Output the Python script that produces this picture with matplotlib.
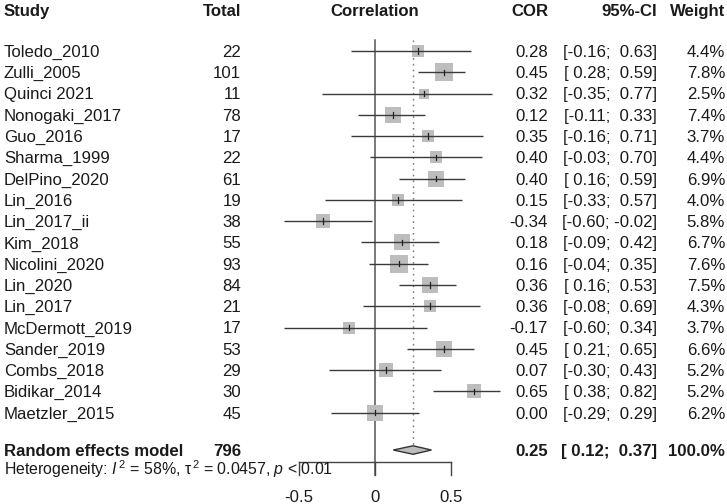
import matplotlib
matplotlib.use("Agg")
import matplotlib.pyplot as plt
from matplotlib.transforms import blended_transform_factory
from matplotlib.patches import Polygon

plt.rcParams['font.family'] = ['Liberation Sans', 'DejaVu Sans']
plt.rcParams['mathtext.fontset'] = 'custom'
plt.rcParams['mathtext.rm'] = 'Liberation Sans'
plt.rcParams['mathtext.it'] = 'Liberation Sans:italic'
plt.rcParams['mathtext.bf'] = 'Liberation Sans:bold'

# ---------------- data ----------------
studies = ["Toledo_2010", "Zulli_2005", "Quinci 2021", "Nonogaki_2017", "Guo_2016",
           "Sharma_1999", "DelPino_2020", "Lin_2016", "Lin_2017_ii", "Kim_2018",
           "Nicolini_2020", "Lin_2020", "Lin_2017", "McDermott_2019", "Sander_2019",
           "Combs_2018", "Bidikar_2014", "Maetzler_2015"]
totals = [22, 101, 11, 78, 17, 22, 61, 19, 38, 55, 93, 84, 21, 17, 53, 29, 30, 45]
cor = [0.28, 0.45, 0.32, 0.12, 0.35, 0.40, 0.40, 0.15, -0.34, 0.18, 0.16, 0.36,
       0.36, -0.17, 0.45, 0.07, 0.65, 0.00]
ci_lo = [-0.16, 0.28, -0.35, -0.11, -0.16, -0.03, 0.16, -0.33, -0.60, -0.09, -0.04,
         0.16, -0.08, -0.60, 0.21, -0.30, 0.38, -0.29]
ci_hi = [0.63, 0.59, 0.77, 0.33, 0.71, 0.70, 0.59, 0.57, -0.02, 0.42, 0.35, 0.53,
         0.69, 0.34, 0.65, 0.43, 0.82, 0.29]
weights = [4.4, 7.8, 2.5, 7.4, 3.7, 4.4, 6.9, 4.0, 5.8, 6.7, 7.6, 7.5, 4.3, 3.7,
           6.6, 5.2, 5.2, 6.2]

re_label = "Random effects model"
re_total = 796
re_cor, re_lo, re_hi, re_weight = 0.25, 0.12, 0.37, 100.0
het_text = r"Heterogeneity: $I^{\,2}$ = 58%, $\mathrm{\tau}^{\,2}$ = 0.0457, $p$ < 0.01"
xticks = [-0.5, 0, 0.5]
xtick_labels = ["-0.5", "0", "0.5"]
headers = ["Study", "Total", "Correlation", "COR", "95%-CI", "Weight"]

# ---------------- layout ----------------
W, H = 727, 504
fig = plt.figure(figsize=(W / 100, H / 100), dpi=100)
ax = fig.add_axes([0, 0, 1, 1])
px_per_unit = 152.5
x0_px = 375
px_per_row = 21.27
row0_px = 51
ax.set_xlim(-x0_px / px_per_unit, (W - x0_px) / px_per_unit)
ax.set_ylim((H - row0_px) / px_per_row, -row0_px / px_per_row)
ax.axis('off')

trans = blended_transform_factory(fig.transFigure, ax.transData)
def fx(px):
    return px / W

FS = 12.1
txt_col = '#1a1a1a'
off = 0.28  # baseline offset (rows) from cap center

n = len(studies)
rows = list(range(n))
re_row = 18.76
het_row = 19.68
axis_row = 19.32
tick_end = 19.93
ticklab_row = 20.92
header_row = -1.93

# headers
hx = [(4, 'left'), (241, 'right'), (None, 'center'), (548, 'right'), (657, 'right'), (725, 'right')]
for h, (xp, ha) in zip(headers, hx):
    if xp is None:
        ax.text(0, header_row + off, h, ha='center', va='baseline', fontsize=FS,
                fontweight='bold', color=txt_col)
    else:
        ax.text(fx(xp), header_row + off, h, ha=ha, va='baseline', fontsize=FS,
                fontweight='bold', color=txt_col, transform=trans)

# vertical reference lines
ax.plot([0, 0], [-0.5, tick_end], color='#555555', lw=1.1, zorder=1)
ax.plot([re_cor, re_cor], [-0.5, re_row - 0.2], color='#777777', lw=1.0,
        linestyle=(0, (1.2, 3.0)), zorder=1)

# studies
for i in rows:
    y = i
    ax.plot([ci_lo[i], ci_hi[i]], [y, y], color='#3a3a3a', lw=1.0, zorder=3,
            solid_capstyle='butt')
    side_pt = 4.46 * weights[i] ** 0.5
    ax.scatter([cor[i]], [y], s=side_pt ** 2, marker='s', color='#bdbdbd',
               linewidths=0, zorder=2)
    ax.plot([cor[i], cor[i]], [y - 0.13, y + 0.13], color='#222222', lw=0.9, zorder=4)
    yb = y + off
    ax.text(fx(4), yb, studies[i], ha='left', va='baseline', fontsize=FS, color=txt_col, transform=trans)
    ax.text(fx(241), yb, f"{totals[i]}", ha='right', va='baseline', fontsize=FS, color=txt_col, transform=trans)
    ax.text(fx(548), yb, f"{cor[i]:.2f}", ha='right', va='baseline', fontsize=FS, color=txt_col, transform=trans)
    ax.text(fx(657), yb, f"[{ci_lo[i]:5.2f}; {ci_hi[i]:5.2f}]", ha='right', va='baseline',
            fontsize=FS, color=txt_col, transform=trans)
    ax.text(fx(725), yb, f"{weights[i]:.1f}%", ha='right', va='baseline', fontsize=FS, color=txt_col, transform=trans)

# random effects diamond
dia = Polygon([[re_lo, re_row], [re_cor, re_row - 0.2], [re_hi, re_row], [re_cor, re_row + 0.2]],
              closed=True, facecolor='#bdbdbd', edgecolor='#333333', lw=1.0, zorder=3)
ax.add_patch(dia)
yb = re_row + off
ax.text(fx(4), yb, re_label, ha='left', va='baseline', fontsize=FS, fontweight='bold', color=txt_col, transform=trans)
ax.text(fx(241), yb, f"{re_total}", ha='right', va='baseline', fontsize=FS, fontweight='bold', color=txt_col, transform=trans)
ax.text(fx(548), yb, f"{re_cor:.2f}", ha='right', va='baseline', fontsize=FS, fontweight='bold', color=txt_col, transform=trans)
ax.text(fx(657), yb, f"[{re_lo:5.2f}; {re_hi:5.2f}]", ha='right', va='baseline', fontsize=FS,
        fontweight='bold', color=txt_col, transform=trans)
ax.text(fx(725), yb, f"{re_weight:.1f}%", ha='right', va='baseline', fontsize=FS, fontweight='bold', color=txt_col, transform=trans)

# heterogeneity
ax.text(fx(4), het_row + 0.235, het_text, ha='left', va='baseline', fontsize=11.4,
        color=txt_col, transform=trans)

# x axis
ax.plot([xticks[0], xticks[-1]], [axis_row, axis_row], color='#444444', lw=1.0, zorder=1)
for t, lab in zip(xticks, xtick_labels):
    ax.plot([t, t], [axis_row, tick_end], color='#444444', lw=1.0, zorder=1)
    ax.text(t, ticklab_row + off, lab, ha='center', va='baseline', fontsize=FS, color=txt_col)

fig.savefig("out.png", dpi=100)
